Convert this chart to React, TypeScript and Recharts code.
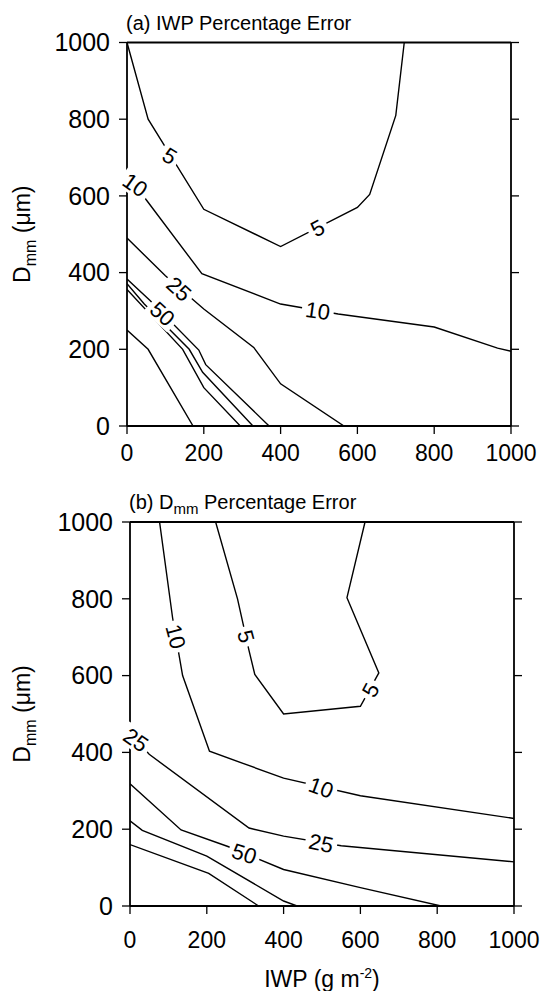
import React from "react";
import { Line, LineChart, ReferenceDot, XAxis, YAxis } from "recharts";

const FONT = '"Liberation Sans", Arial, Helvetica, sans-serif';
const TICKS = [0, 200, 400, 600, 800, 1000];

// (a) IWP percentage error: contour vertices, IWP (g m-2) / Dmm (um)
const aIwp5 = [0, 55, 200, 400, 600, 632, 700, 722];
const aDmm5 = [1000, 800, 565, 468, 570, 604, 810, 1000];
const aIwp10 = [0, 50, 195, 400, 550, 800, 965, 1000];
const aDmm10 = [660, 590, 397, 318, 292, 258, 203, 195];
const aIwp25 = [0, 100, 200, 330, 400, 565];
const aDmm25 = [490, 392, 305, 205, 110, 0];
const aIwp50 = [0, 60, 187, 205, 370];
const aDmm50 = [383, 327, 198, 160, 0];
const aIwpInner1 = [0, 45, 162, 197, 328];
const aDmmInner1 = [371, 318, 200, 140, 0];
const aIwpInner2 = [0, 145, 200, 295];
const aDmmInner2 = [356, 200, 100, 0];
const aIwpInner3 = [0, 55, 172];
const aDmmInner3 = [250, 200, 0];

const aLabelText = ["5", "10", "5", "25", "50", "10"];
const aLabelIwp = [112, 22, 496, 136, 93, 497];
const aLabelDmm = [705, 629, 517, 358, 293, 301];
const aLabelAngle = [32, 35, -28, 42, 42, 8];

// (b) Dmm percentage error
const bIwp5 = [223, 280, 310, 325, 400, 600, 648, 565, 612];
const bDmm5 = [1000, 800, 665, 603, 500, 520, 607, 803, 1000];
const bIwp10 = [77, 111, 137, 207, 400, 600, 1000];
const bDmm10 = [1000, 750, 600, 403, 333, 287, 228];
const bIwp25 = [0, 50, 310, 400, 550, 1000];
const bDmm25 = [450, 395, 203, 182, 157, 115];
const bIwp50 = [0, 133, 255, 400, 600, 810];
const bDmm50 = [318, 198, 155, 95, 48, 0];
const bIwpInner1 = [0, 32, 200, 400, 435];
const bDmmInner1 = [222, 197, 130, 13, 0];
const bIwpInner2 = [0, 205, 335];
const bDmmInner2 = [160, 85, 0];

const bLabelText = ["10", "5", "5", "25", "10", "25", "50"];
const bLabelIwp = [120, 303, 626, 16, 498, 498, 298];
const bLabelDmm = [702, 702, 563, 433, 309, 164, 137];
const bLabelAngle = [75, 75, -62, 35, 20, 12, 18];

type Pt = { x: number; y: number };
const toPoints = (xs: number[], ys: number[]): Pt[] => xs.map((x, i) => ({ x, y: ys[i] }));

const contoursA = [
	toPoints(aIwp5, aDmm5),
	toPoints(aIwp10, aDmm10),
	toPoints(aIwp25, aDmm25),
	toPoints(aIwp50, aDmm50),
	toPoints(aIwpInner1, aDmmInner1),
	toPoints(aIwpInner2, aDmmInner2),
	toPoints(aIwpInner3, aDmmInner3),
];
const contoursB = [
	toPoints(bIwp5, bDmm5),
	toPoints(bIwp10, bDmm10),
	toPoints(bIwp25, bDmm25),
	toPoints(bIwp50, bDmm50),
	toPoints(bIwpInner1, bDmmInner1),
	toPoints(bIwpInner2, bDmmInner2),
];

const labelsA = aLabelText.map((text, i) => ({ text, x: aLabelIwp[i], y: aLabelDmm[i], angle: aLabelAngle[i] }));
const labelsB = bLabelText.map((text, i) => ({ text, x: bLabelIwp[i], y: bLabelDmm[i], angle: bLabelAngle[i] }));

function contourLabel(text: string, angle: number) {
	// eslint-disable-next-line @typescript-eslint/no-explicit-any
	return (props: any) => {
		const { x, y } = props.viewBox;
		const w = text.length * 12 + 8;
		return (
			<g transform={`translate(${x},${y}) rotate(${angle})`}>
				<rect x={-w / 2} y={-11} width={w} height={22} fill="#fff" />
				<text x={0} y={8} textAnchor="middle" fontSize={22} fontFamily={FONT} fill="#000">
					{text}
				</text>
			</g>
		);
	};
}

interface PanelProps {
	contours: Pt[][];
	labels: { text: string; x: number; y: number; angle: number }[];
	title: React.ReactNode;
	height: number;
	top: number;
	left: number;
	right: number;
	xAxisHeight: number;
	xTickMargin: number;
	xLabel?: React.ReactNode;
}

const axisLine = { stroke: "#000", strokeWidth: 1.8 };
const tickLine = { stroke: "#000", strokeWidth: 1.3 };
const noTick = () => <g />;
const FRAME_GAP = 8;

function Panel({ contours, labels, title, height, top, left, right, xAxisHeight, xTickMargin, xLabel }: PanelProps) {
	return (
		<LineChart
			width={541}
			height={height}
			margin={{ top: top - FRAME_GAP, right: right - FRAME_GAP, bottom: 0, left: 0 }}
		>
			<XAxis
				xAxisId="bottom"
				type="number"
				dataKey="x"
				domain={[0, 1000]}
				ticks={TICKS}
				allowDataOverflow
				height={xAxisHeight}
				tickSize={8}
				tickMargin={xTickMargin}
				axisLine={axisLine}
				tickLine={tickLine}
				tick={{ fill: "#000", fontSize: 23, fontFamily: FONT }}
				label={
					xLabel
						? // eslint-disable-next-line @typescript-eslint/no-explicit-any
							(p: any) => (
								<text
									x={p.viewBox.x + p.viewBox.width / 2}
									y={p.viewBox.y + p.viewBox.height - 4}
									textAnchor="middle"
									fontSize={23}
									fontFamily={FONT}
									fill="#000"
								>
									{xLabel}
								</text>
							)
						: undefined
				}
			/>
			<XAxis
				xAxisId="top"
				orientation="top"
				type="number"
				domain={[0, 1000]}
				ticks={TICKS}
				allowDataOverflow
				height={FRAME_GAP}
				tickSize={8}
				axisLine={axisLine}
				tickLine={tickLine}
				tick={noTick}
				// eslint-disable-next-line @typescript-eslint/no-explicit-any
				label={(p: any) => (
					<text
						x={p.viewBox.x - 1}
						y={p.viewBox.y + p.viewBox.height - 13}
						fontSize={20}
						fontFamily={FONT}
						fill="#000"
					>
						{title}
					</text>
				)}
			/>
			<YAxis
				yAxisId="left"
				type="number"
				domain={[0, 1000]}
				ticks={TICKS}
				allowDataOverflow
				width={left}
				tickSize={8}
				tickMargin={9}
				axisLine={axisLine}
				tickLine={tickLine}
				tick={{ fill: "#000", fontSize: 25, fontFamily: FONT }}
				// eslint-disable-next-line @typescript-eslint/no-explicit-any
				label={(p: any) => (
					<text
						transform={`translate(30,${p.viewBox.y + p.viewBox.height / 2}) rotate(-90)`}
						textAnchor="middle"
						fontSize={23}
						fontFamily={FONT}
						fill="#000"
					>
						D
						<tspan fontSize={16} dy={6}>
							mm
						</tspan>
						<tspan dy={-6}> (μm)</tspan>
					</text>
				)}
			/>
			<YAxis
				yAxisId="right"
				orientation="right"
				type="number"
				domain={[0, 1000]}
				ticks={TICKS}
				allowDataOverflow
				width={FRAME_GAP}
				tickSize={8}
				axisLine={axisLine}
				tickLine={tickLine}
				tick={noTick}
			/>
			{contours.map((data, i) => (
				<Line
					key={i}
					xAxisId="bottom"
					yAxisId="left"
					data={data}
					dataKey="y"
					type="linear"
					stroke="#000"
					strokeWidth={1.4}
					dot={false}
					activeDot={false}
					isAnimationActive={false}
				/>
			))}
			{labels.map((l, i) => (
				<ReferenceDot
					key={i}
					xAxisId="bottom"
					yAxisId="left"
					x={l.x}
					y={l.y}
					r={0}
					fill="none"
					stroke="none"
					label={contourLabel(l.text, l.angle)}
				/>
			))}
		</LineChart>
	);
}

export default function App() {
	return (
		<div style={{ position: "absolute", left: 0, top: 0, width: 541, height: 991, background: "#fff" }}>
			<Panel
				contours={contoursA}
				labels={labelsA}
				title="(a) IWP Percentage Error"
				height={490}
				top={42.5}
				left={127}
				right={30}
				xAxisHeight={64}
				xTickMargin={11}
			/>
			<Panel
				contours={contoursB}
				labels={labelsB}
				title={
					<>
						(b) D
						<tspan fontSize={15} dy={5}>
							mm
						</tspan>
						<tspan dy={-5}> Percentage Error</tspan>
					</>
				}
				height={501}
				top={32}
				left={130}
				right={27}
				xAxisHeight={85}
				xTickMargin={18}
				xLabel={
					<>
						IWP (g m
						<tspan fontSize={14} dy={-9}>
							-2
						</tspan>
						<tspan dy={9}>)</tspan>
					</>
				}
			/>
		</div>
	);
}
